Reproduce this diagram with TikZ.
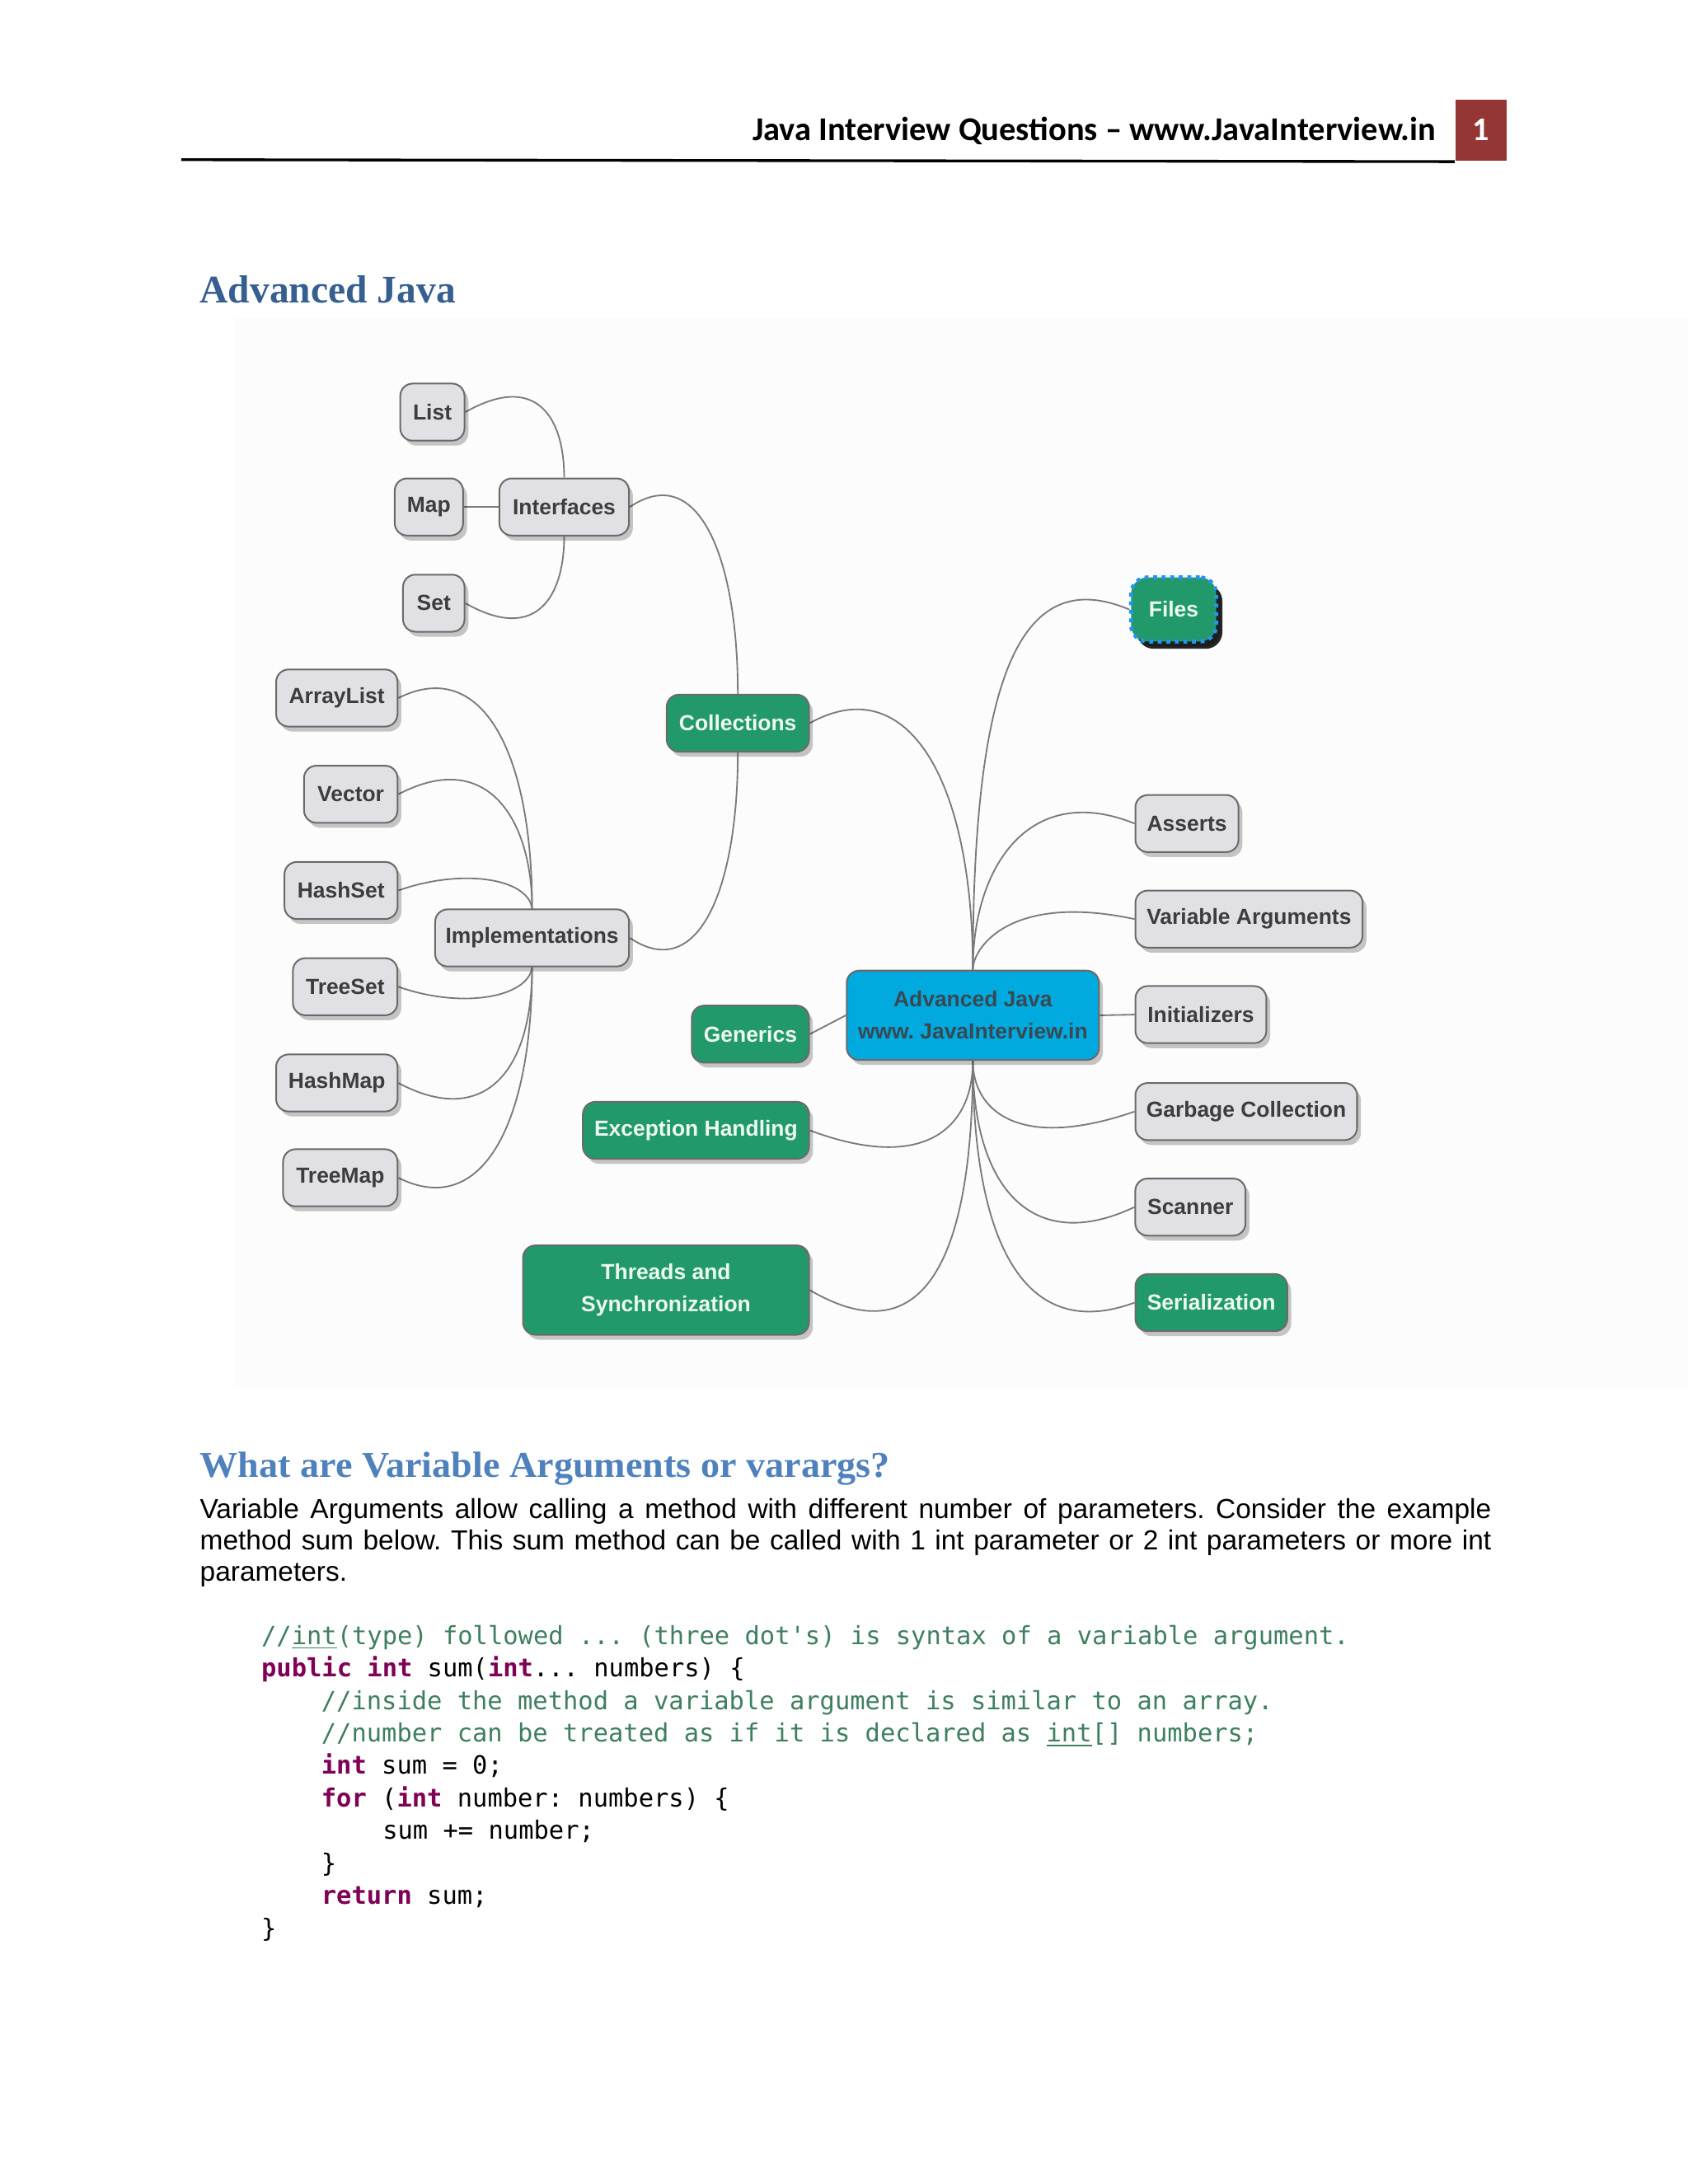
\documentclass[tikz,border=0pt]{standalone}
\usepackage{fontspec}
\setmainfont{Liberation Sans}
\newfontfamily\hdrfont{Carlito}
\newfontfamily\headfont{Liberation Serif}
\newfontfamily\headwidefont[FakeStretch=1.045]{Liberation Serif}
\newfontfamily\codefont{DejaVu Sans Mono}
\usetikzlibrary{shadows}
\definecolor{hdrred}{HTML}{943634}
\definecolor{hone}{HTML}{365F91}
\definecolor{htwo}{HTML}{4F81BD}
\definecolor{nodegray}{HTML}{E1E0E4}
\definecolor{nodetext}{HTML}{3D3D40}
\definecolor{nodegreen}{HTML}{21996B}
\definecolor{greentext}{HTML}{EEF8F2}
\definecolor{centerblue}{HTML}{00A9DE}
\definecolor{centertext}{HTML}{3A4852}
\definecolor{mmborder}{HTML}{6A6A6A}
\definecolor{linkgray}{HTML}{7A7A7A}
\definecolor{filesblue}{HTML}{2394F0}
\definecolor{cmtgreen}{HTML}{3F7F5F}
\definecolor{kwpurple}{HTML}{7F0055}
\definecolor{mmbg}{HTML}{FCFCFC}
\newcommand\mmtext{\fontsize{7.9}{11.6}\selectfont\bfseries}
\newcommand\kw[1]{\textcolor{kwpurple}{\bfseries #1}}
\newcommand\cm[1]{\textcolor{cmtgreen}{#1}}
\pgfdeclarelayer{background}
\pgfsetlayers{background,main}
\frenchspacing
\begin{document}
\frenchspacing
\begin{tikzpicture}[x=0.50578pt, y=-0.50578pt,
  mm/.style={rounded corners=4.5pt, draw=mmborder, line width=0.6pt,
    minimum height=20.7pt, inner xsep=2pt, inner ysep=2pt, font=\mmtext, align=center,
    drop shadow={shadow xshift=1.4pt, shadow yshift=-1.8pt, opacity=0.22, fill=black}},
  grayn/.style={mm, fill=nodegray, text=nodetext},
  greenn/.style={mm, fill=nodegreen, text=greentext},
  link/.style={draw=linkgray, line width=0.55pt},
  codeline/.style={anchor=base west, inner sep=0pt, font=\codefont\fontsize{9.1}{11}\selectfont}
]
\useasboundingbox (0,0) rectangle (1210,1566);
\begin{pgfonlayer}{background}
\fill[white] (0,0) rectangle (1210,1566);
\fill[mmbg] (167,228) rectangle (1210,995);
\end{pgfonlayer}

% header
\node[anchor=base east, inner sep=0pt, font=\hdrfont\bfseries\fontsize{12.1}{14}\selectfont] (hdr) at (1030,100.8)
  {Java Interview Questions – www.JavaInterview.in};
\node[fill=hdrred, minimum width=18.7pt, minimum height=22.3pt, inner sep=0pt, anchor=north west] (pg) at (1043,71) {};
\node[anchor=base, inner sep=0pt, text=white, font=\hdrfont\bfseries\fontsize{12}{14}\selectfont] (pgnum) at (1061.5,100.8) {1};
\coordinate (hl) at (130,114.5);
\draw[line width=1pt] (hl) -- (pg.south west);

% title
\node[anchor=base west, inner sep=0pt, text=hone, font=\headfont\bfseries\fontsize{14.2}{16}\selectfont] (title) at (143,217) {Advanced Java};

% nodes
\node[grayn, minimum width=23.3pt] (list) at (310,295.5) {List};
\node[grayn, minimum width=24.8pt] (map) at (307.5,363.5) {Map};
\node[grayn, minimum width=22.3pt] (set) at (311,432.5) {Set};
\node[grayn, minimum width=47pt] (intf) at (404.5,363.5) {Interfaces};

\node[grayn, minimum width=44pt] (arraylist) at (241.5,500.5) {ArrayList};
\node[grayn, minimum width=33.9pt] (vector) at (251.5,569.5) {Vector};
\node[grayn, minimum width=41pt] (hashset) at (244.5,638.5) {HashSet};
\node[grayn, minimum width=70.3pt] (impl) at (381.5,672.5) {Implementations};
\node[grayn, minimum width=37.9pt] (treeset) at (247.5,707.5) {TreeSet};
\node[grayn, minimum width=44pt] (hashmap) at (241.5,776.5) {HashMap};
\node[grayn, minimum width=41.5pt] (treemap) at (244,844.5) {TreeMap};

\node[greenn, minimum width=51.6pt] (coll) at (529,518.5) {Collections};
\node[greenn, minimum width=42.5pt] (generics) at (538,741.5) {Generics};
\node[greenn, minimum width=82pt] (exc) at (499,810.5) {Exception Handling};
\node[greenn, minimum width=103.7pt, minimum height=32.4pt] (threads) at (477.5,925) {Threads and\\Synchronization};

\node[mm, fill=centerblue, text=centertext, minimum width=91.5pt, minimum height=32.4pt] (center) at (697.5,728)
  {Advanced Java\\www. JavaInterview.in};

\node[mm, fill=nodegreen, text=greentext, draw=filesblue, line width=1.4pt, dash pattern=on 1.4pt off 1.7pt,
  rounded corners=6pt, minimum width=30.9pt, minimum height=23.3pt,
  drop shadow={shadow xshift=2.2pt, shadow yshift=-2.6pt, opacity=0.85, fill=black}] (files) at (841.5,437) {Files};

\node[grayn, minimum width=37.4pt] (asserts) at (851,590.5) {Asserts};
\node[grayn, minimum width=82.4pt] (varargs) at (895.5,659) {Variable Arguments};
\node[grayn, minimum width=47.5pt] (init) at (861,727.5) {Initializers};
\node[grayn, minimum width=80.4pt] (gc) at (893.5,797) {Garbage Collection};
\node[grayn, minimum width=40pt] (scanner) at (853.5,865.5) {Scanner};
\node[greenn, minimum width=55.1pt] (serial) at (868.5,934) {Serialization};

% connectors
\begin{pgfonlayer}{background}
\draw[link] (intf.north) .. controls +(0,-43) and +(51,-29) .. (list.east);
\draw[link] (intf.west) -- (map.east);
\draw[link] (intf.south) .. controls +(0,43) and +(51,29) .. (set.east);
\draw[link] (coll.north) .. controls +(0,-98) and +(49,-33) .. (intf.east);
\draw[link] (coll.south) .. controls +(0,98) and +(49,33) .. (impl.east);
\draw[link] (impl.north) .. controls +(0,-112) and +(60,-30) .. (arraylist.east);
\draw[link] (impl.north) .. controls +(0,-62) and +(65,-34) .. (vector.east);
\draw[link] (impl.north) .. controls +(-3,-22) and +(45,-16) .. (hashset.east);
\draw[link] (impl.south) .. controls +(-3,22) and +(45,16) .. (treeset.east);
\draw[link] (impl.south) .. controls +(0,77) and +(60,32) .. (hashmap.east);
\draw[link] (impl.south) .. controls +(0,112) and +(60,30) .. (treemap.east);
\draw[link] (center.north) .. controls +(0,-136) and +(70,-39) .. (coll.east);
\draw[link] (center.north) .. controls +(0,-216) and +(-76,-32) .. (files.west);
\draw[link] (center.north) .. controls +(0,-76) and +(-74,-30) .. (asserts.west);
\draw[link] (center.north) .. controls +(0,-16) and +(-89,-19) .. (varargs.west);
\draw[link] (center.east) -- (init.west);
\draw[link] (center.west) -- (generics.east);
\draw[link] (center.south) .. controls +(0,50) and +(80,30) .. (exc.east);
\draw[link] (center.south) .. controls +(0,135) and +(85,50) .. (threads.east);
\draw[link] (center.south) .. controls +(0,35) and +(-84,29) .. (gc.west);
\draw[link] (center.south) .. controls +(0,90) and +(-74,35) .. (scanner.west);
\draw[link] (center.south) .. controls +(0,120) and +(-84,31) .. (serial.west);
\end{pgfonlayer}

% section heading
\node[anchor=base west, inner sep=0pt, text=htwo, font=\headwidefont\bfseries\fontsize{13.2}{15}\selectfont] (h2) at (143,1059)
  {What are Variable Arguments or varargs?};

% paragraph
\node[anchor=base west, inner sep=0pt, text width=468.3pt, align=justify,
  font=\fontsize{10}{11.3}\selectfont] (para) at (143,1089)
  {\frenchspacing Variable Arguments allow calling a method with different number of parameters. Consider the example\linebreak
   method sum below. This sum method can be called with 1 int parameter or 2 int parameters or more int\linebreak
   parameters.};

% code
\node[codeline] (c1) at (187,1179) {\frenchspacing\cm{//\underline{int}(type) followed ... (three dot's) is syntax of a variable argument.}};
\node[codeline] (c2) at (187,1202.3) {\kw{public} \kw{int} sum(\kw{int}... numbers) \{};
\node[codeline] (c3) at (230,1225.6) {\cm{//inside the method a variable argument is similar to an array.}};
\node[codeline] (c4) at (230,1248.9) {\cm{//number can be treated as if it is declared as \underline{int}[] numbers;}};
\node[codeline] (c5) at (230,1272.2) {\kw{int} sum = 0;};
\node[codeline] (c6) at (230,1295.5) {\frenchspacing\kw{for} (\kw{int} number: numbers) \{};
\node[codeline] (c7) at (274,1318.8) {sum += number;};
\node[codeline] (c8) at (230,1342.1) {\}};
\node[codeline] (c9) at (230,1365.4) {\kw{return} sum;};
\node[codeline] (c10) at (187,1388.7) {\}};
\end{tikzpicture}
\end{document}
